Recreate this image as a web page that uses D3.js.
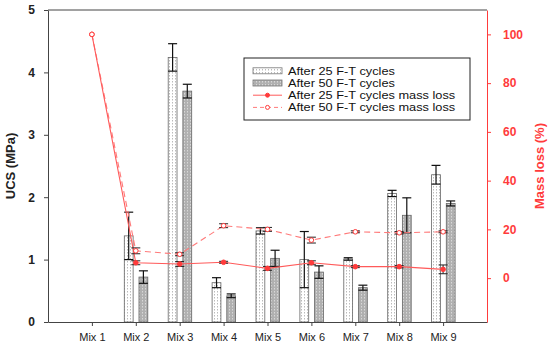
<!DOCTYPE html>
<html><head><meta charset="utf-8">
<script src="https://cdn.jsdelivr.net/npm/d3@7"></script>
<style>
body{margin:0;background:#fff;}
text{font-family:"Liberation Sans",Arial,sans-serif;}
</style></head>
<body><svg id="c" width="550" height="350"></svg>
<script>
const categories = ["Mix 1","Mix 2","Mix 3","Mix 4","Mix 5","Mix 6","Mix 7","Mix 8","Mix 9"];
const ucs25    = [null, 1.38, 4.24, 0.63, 1.46, 1.00, 1.01, 2.06, 2.36];
const ucs25Err = [null, 0.38, 0.22, 0.08, 0.05, 0.45, 0.02, 0.05, 0.15];
const ucs50    = [null, 0.72, 3.70, 0.42, 1.02, 0.80, 0.55, 1.71, 1.90];
const ucs50Err = [null, 0.10, 0.11, 0.03, 0.13, 0.10, 0.04, 0.28, 0.04];
const mass25    = [100, 6.3, 5.8, 6.5, 4.0, 6.3, 4.7, 4.7, 3.6];
const mass25Err = [0, 0.8, 1.0, 0.4, 0.8, 0.8, 0.4, 0.5, 1.8];
const mass50    = [100, 11.2, 9.8, 21.5, 20.0, 15.6, 19.0, 18.6, 19.0];
const mass50Err = [0, 1.2, 0.6, 0.8, 0.8, 1.2, 0.4, 0.5, 0.4];
const leftTicks = [0,1,2,3,4,5];
const rightTicks = [0,20,40,60,80,100];
const legendLabels = ["After 25 F-T cycles","After 50 F-T cycles","After 25 F-T cycles mass loss","After 50 F-T cycles mass loss"];

const RED = "#ff3b3b", LINE = "#ff5a5a", LINE2 = "#ff7a7a", AX = "#444";
const L = 48, R = 487, T = 10, B = 322;
const svg = d3.select("#c");

const defs = svg.append("defs");
const p1 = defs.append("pattern").attr("id","pw").attr("patternUnits","userSpaceOnUse").attr("width",3).attr("height",3);
p1.append("rect").attr("width",3).attr("height",3).attr("fill","#fff");
p1.append("rect").attr("x",1).attr("y",0).attr("width",1).attr("height",1.5).attr("fill","#bbb");
const p2 = defs.append("pattern").attr("id","pg").attr("patternUnits","userSpaceOnUse").attr("width",3).attr("height",3);
p2.append("rect").attr("width",3).attr("height",3).attr("fill","#b0b0b0");
p2.append("rect").attr("x",1).attr("y",0).attr("width",1).attr("height",1.5).attr("fill","#d8d8d8");

const x = d3.scaleLinear().domain([0, categories.length + 1]).range([L, R]);
const cx = i => x(i + 1);
const sub = d3.scaleBand().domain(["25","50"]).range([-11.5, 12]).paddingInner(0.4);
const y = d3.scaleLinear().domain([0,5]).range([B, T]);
const y2 = d3.scaleLinear().domain([-18, 110]).range([B, T]);

// frame
svg.append("line").attr("x1",L).attr("x2",R).attr("y1",T).attr("y2",T).attr("stroke",AX);

// bars
function drawBars(vals, errs, key, fill) {
  const g = svg.append("g");
  vals.forEach((v, i) => {
    if (v == null) return;
    const x0 = cx(i) + sub(key), w = sub.bandwidth();
    g.append("rect").attr("x",x0).attr("y",y(v)).attr("width",w).attr("height",y(0)-y(v))
      .attr("fill",fill).attr("stroke","#666").attr("stroke-width",0.8);
    const m = x0 + w/2, e = errs[i];
    g.append("line").attr("x1",m).attr("x2",m).attr("y1",y(v+e)).attr("y2",y(v-e)).attr("stroke","#111").attr("stroke-width",1.2);
    [v+e, v-e].forEach(t => g.append("line").attr("x1",m-4.5).attr("x2",m+4.5).attr("y1",y(t)).attr("y2",y(t)).attr("stroke","#111").attr("stroke-width",1.2));
  });
}
drawBars(ucs25, ucs25Err, "25", "url(#pw)");
drawBars(ucs50, ucs50Err, "50", "url(#pg)");

// mass loss lines
const line = d3.line().x((d,i) => cx(i)).y(d => y2(d));
svg.append("path").datum(mass50).attr("d", line).attr("fill","none").attr("stroke",LINE2).attr("stroke-width",1.1).attr("stroke-dasharray","6,4");
svg.append("path").datum(mass25).attr("d", line).attr("fill","none").attr("stroke",LINE).attr("stroke-width",1.1);

function drawErr(vals, errs) {
  vals.forEach((v,i) => {
    const e = errs[i]; if (!e) return;
    const m = cx(i);
    svg.append("line").attr("x1",m).attr("x2",m).attr("y1",y2(v+e)).attr("y2",y2(v-e)).attr("stroke","#222").attr("stroke-width",1);
    [v+e, v-e].forEach(t => svg.append("line").attr("x1",m-4.5).attr("x2",m+4.5).attr("y1",y2(t)).attr("y2",y2(t)).attr("stroke","#222").attr("stroke-width",1));
  });
}
drawErr(mass25, mass25Err);
drawErr(mass50, mass50Err);
svg.append("g").selectAll("circle").data(mass25).join("circle")
  .attr("cx",(d,i)=>cx(i)).attr("cy",d=>y2(d)).attr("r",2.3).attr("fill",RED).attr("stroke",RED);
svg.append("g").selectAll("circle").data(mass50).join("circle")
  .attr("cx",(d,i)=>cx(i)).attr("cy",d=>y2(d)).attr("r",2.3).attr("fill","#fff").attr("stroke",RED).attr("stroke-width",1);

// axes
const ax = svg.append("g").attr("transform",`translate(0,${B})`)
  .call(d3.axisBottom(x).tickValues(categories.map((c,i)=>i+1)).tickFormat(d=>categories[d-1]).tickSize(4).tickSizeOuter(0).tickPadding(7));
ax.select(".domain").attr("stroke",AX);
ax.selectAll(".tick line").attr("stroke",AX);
ax.selectAll("text").attr("font-size",11).attr("fill","#222").attr("font-family","Liberation Sans, Arial");

const ay = svg.append("g").attr("transform",`translate(${L},0)`)
  .call(d3.axisLeft(y).tickValues(leftTicks).tickFormat(d3.format("d")).tickSize(4).tickSizeOuter(0).tickPadding(9));
ay.select(".domain").attr("stroke",AX);
ay.selectAll(".tick line").attr("stroke",AX);
ay.selectAll("text").attr("font-size",12).attr("font-weight","bold").attr("fill","#222").attr("font-family","Liberation Sans, Arial");

const ar = svg.append("g").attr("transform",`translate(${R},0)`)
  .call(d3.axisRight(y2).tickValues(rightTicks).tickFormat(d3.format("d")).tickSize(4).tickSizeOuter(0).tickPadding(12));
ar.select(".domain").attr("stroke",RED);
ar.selectAll(".tick line").attr("stroke",RED);
ar.selectAll("text").attr("font-size",12).attr("font-weight","bold").attr("fill",RED).attr("font-family","Liberation Sans, Arial");

svg.append("text").attr("transform",`translate(15,${(T+B)/2}) rotate(-90)`).attr("text-anchor","middle")
  .attr("font-size",13).attr("font-weight","bold").attr("fill","#222").text("UCS (MPa)");
svg.append("text").attr("transform",`translate(544,${(T+B)/2}) rotate(-90)`).attr("text-anchor","middle")
  .attr("font-size",13).attr("font-weight","bold").attr("fill",RED).text("Mass loss (%)");

// legend
const lg = svg.append("g");
lg.append("rect").attr("x",244).attr("y",58).attr("width",226).attr("height",62).attr("fill","#fff").attr("stroke","#222").attr("stroke-width",1);
legendLabels.forEach((t,i) => {
  const yy = 70.8 + i*12.2;
  if (i < 2) {
    lg.append("rect").attr("x",253).attr("y",yy-3).attr("width",29).attr("height",6)
      .attr("fill", i===0 ? "url(#pw)" : "url(#pg)").attr("stroke","#777").attr("stroke-width",0.8);
  } else {
    lg.append("line").attr("x1",253).attr("x2",282).attr("y1",yy).attr("y2",yy).attr("stroke",i===2?LINE:LINE2)
      .attr("stroke-dasharray", i===2 ? null : "4,3");
    lg.append("circle").attr("cx",267.5).attr("cy",yy).attr("r",2).attr("fill",i===2?RED:"#fff").attr("stroke",RED);
  }
  const tx = lg.append("text").attr("x",288).attr("y",yy).attr("dy","0.35em").attr("font-size",11.3).attr("fill","#111").text(t);
  const w = tx.node().getComputedTextLength();
  tx.attr("textLength", w*1.13).attr("lengthAdjust","spacingAndGlyphs");
});
</script></body></html>
